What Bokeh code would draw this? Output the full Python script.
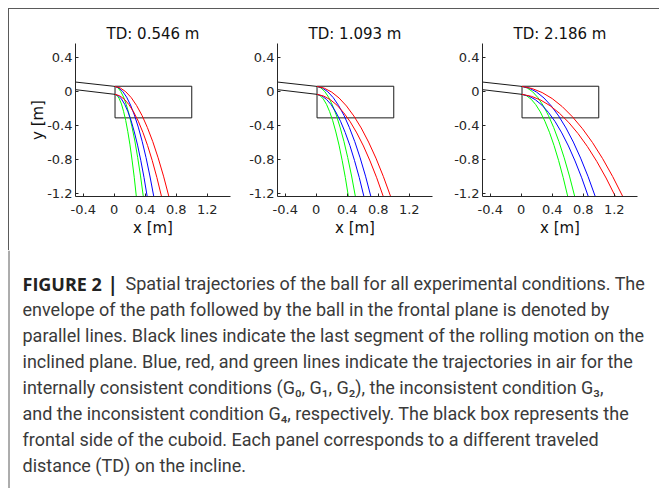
from bokeh.plotting import figure
from bokeh.layouts import column, row
from bokeh.models import Range1d, FixedTicker, Div
from bokeh.core.properties import value
from bokeh.embed import file_html
from bokeh.resources import INLINE

# ---------------- data ----------------
panel_titles = ["TD: 0.546 m", "TD: 1.093 m", "TD: 2.186 m"]
x_ticks = [-0.4, 0, 0.4, 0.8, 1.2]
y_ticks = [-1.2, -0.8, -0.4, 0, 0.4]
x_tick_labels = {-0.4: "-0.4", 0: "0", 0.4: "0.4", 0.8: "0.8", 1.2: "1.2"}
y_tick_labels = {-1.2: "-1.2", -0.8: "-0.8", -0.4: "-0.4", 0: "0", 0.4: "0.4"}
x_limits = [-0.5, 1.5]
y_limits = [-1.23, 0.56]

# last segment of the rolling motion on the incline (envelope)
incline_x = [-0.5, 0.01]
incline_upper_y = [0.109, 0.058]
incline_lower_y = [0.020, -0.035]

# frontal side of the cuboid
box_x = [0.01, 1.0]
box_y = [-0.31, 0.06]

# panel 1 (TD 0.546 m)
p1_green_lo_x = [0.01, 0.038, 0.065, 0.093, 0.12, 0.148, 0.175, 0.203, 0.23, 0.258, 0.285]
p1_green_lo_y = [-0.035, -0.049, -0.087, -0.148, -0.233, -0.341, -0.472, -0.626, -0.804, -1.005, -1.23]
p1_green_up_x = [0.01, 0.047, 0.083, 0.12, 0.156, 0.193, 0.229, 0.266, 0.302, 0.339, 0.375]
p1_green_up_y = [0.058, 0.042, 0.001, -0.066, -0.157, -0.273, -0.415, -0.581, -0.772, -0.989, -1.23]
p1_blue_lo_x = [0.01, 0.052, 0.093, 0.135, 0.176, 0.218, 0.259, 0.301, 0.342, 0.384, 0.425]
p1_blue_lo_y = [-0.035, -0.051, -0.089, -0.151, -0.236, -0.344, -0.475, -0.629, -0.806, -1.007, -1.23]
p1_blue_up_x = [0.01, 0.06, 0.11, 0.16, 0.21, 0.26, 0.31, 0.36, 0.41, 0.46, 0.51]
p1_blue_up_y = [0.058, 0.041, -0.002, -0.068, -0.16, -0.277, -0.418, -0.584, -0.774, -0.99, -1.23]
p1_red_lo_x = [0.01, 0.07, 0.13, 0.19, 0.25, 0.31, 0.37, 0.43, 0.49, 0.55, 0.61]
p1_red_lo_y = [-0.035, -0.052, -0.092, -0.155, -0.241, -0.349, -0.48, -0.633, -0.809, -1.008, -1.23]
p1_red_up_x = [0.01, 0.08, 0.149, 0.219, 0.288, 0.358, 0.427, 0.497, 0.566, 0.636, 0.705]
p1_red_up_y = [0.058, 0.039, -0.005, -0.073, -0.165, -0.281, -0.422, -0.588, -0.777, -0.992, -1.23]

# panel 2 (TD 1.093 m)
p2_green_lo_x = [0.01, 0.051, 0.091, 0.132, 0.172, 0.213, 0.253, 0.294, 0.334, 0.375, 0.415]
p2_green_lo_y = [-0.035, -0.051, -0.089, -0.151, -0.236, -0.344, -0.475, -0.629, -0.806, -1.007, -1.23]
p2_green_up_x = [0.01, 0.06, 0.109, 0.159, 0.208, 0.258, 0.307, 0.357, 0.406, 0.456, 0.505]
p2_green_up_y = [0.058, 0.041, -0.001, -0.068, -0.16, -0.276, -0.418, -0.584, -0.774, -0.99, -1.23]
p2_blue_lo_x = [0.01, 0.071, 0.131, 0.192, 0.252, 0.313, 0.373, 0.434, 0.494, 0.555, 0.615]
p2_blue_lo_y = [-0.035, -0.052, -0.093, -0.155, -0.241, -0.349, -0.48, -0.633, -0.81, -1.008, -1.23]
p2_blue_up_x = [0.01, 0.08, 0.149, 0.219, 0.288, 0.358, 0.427, 0.497, 0.566, 0.636, 0.705]
p2_blue_up_y = [0.058, 0.039, -0.005, -0.073, -0.165, -0.281, -0.422, -0.588, -0.777, -0.992, -1.23]
p2_red_lo_x = [0.01, 0.096, 0.181, 0.267, 0.352, 0.438, 0.523, 0.609, 0.694, 0.78, 0.865]
p2_red_lo_y = [-0.035, -0.055, -0.097, -0.161, -0.247, -0.355, -0.486, -0.639, -0.814, -1.011, -1.23]
p2_red_up_x = [0.01, 0.105, 0.2, 0.295, 0.39, 0.485, 0.58, 0.675, 0.77, 0.865, 0.96]
p2_red_up_y = [0.058, 0.037, -0.009, -0.078, -0.171, -0.288, -0.428, -0.593, -0.781, -0.994, -1.23]

# panel 3 (TD 2.186 m)
p3_green_lo_x = [0.01, 0.069, 0.128, 0.187, 0.246, 0.305, 0.364, 0.423, 0.482, 0.541, 0.6]
p3_green_lo_y = [-0.035, -0.052, -0.092, -0.155, -0.24, -0.349, -0.479, -0.633, -0.809, -1.008, -1.23]
p3_green_up_x = [0.01, 0.078, 0.146, 0.214, 0.282, 0.35, 0.418, 0.486, 0.554, 0.622, 0.69]
p3_green_up_y = [0.058, 0.039, -0.004, -0.072, -0.164, -0.281, -0.422, -0.587, -0.777, -0.991, -1.23]
p3_blue_lo_x = [0.01, 0.096, 0.181, 0.267, 0.352, 0.438, 0.523, 0.609, 0.694, 0.78, 0.865]
p3_blue_lo_y = [-0.035, -0.055, -0.097, -0.161, -0.247, -0.355, -0.486, -0.639, -0.814, -1.011, -1.23]
p3_blue_up_x = [0.01, 0.105, 0.199, 0.294, 0.388, 0.483, 0.577, 0.672, 0.766, 0.861, 0.955]
p3_blue_up_y = [0.058, 0.037, -0.009, -0.078, -0.171, -0.288, -0.428, -0.593, -0.781, -0.994, -1.23]
p3_red_lo_x = [0.01, 0.131, 0.251, 0.372, 0.492, 0.613, 0.733, 0.854, 0.974, 1.095, 1.215]
p3_red_lo_y = [-0.035, -0.058, -0.102, -0.168, -0.255, -0.364, -0.494, -0.646, -0.819, -1.014, -1.23]
p3_red_up_x = [0.01, 0.14, 0.27, 0.4, 0.53, 0.66, 0.79, 0.92, 1.05, 1.18, 1.31]
p3_red_up_y = [0.058, 0.033, -0.014, -0.085, -0.179, -0.297, -0.437, -0.6, -0.787, -0.997, -1.23]

caption_bold = "FIGURE 2"
caption_bar = "|"
caption_lines = [
    "Spatial trajectories of the ball for all experimental conditions. The",
    "envelope of the path followed by the ball in the frontal plane is denoted by",
    "parallel lines. Black lines indicate the last segment of the rolling motion on the",
    "inclined plane. Blue, red, and green lines indicate the trajectories in air for the",
    "internally consistent conditions (G\u2080, G\u2081, G\u2082), the inconsistent condition G\u2083,",
    "and the inconsistent condition G\u2084, respectively. The black box represents the",
    "frontal side of the cuboid. Each panel corresponds to a different traveled",
    "distance (TD) on the incline.",
]

# ---------------- styling ----------------
GREEN, BLUE, RED = "#00ff00", "#0000ff", "#ff0000"
AX = "#262626"
FRAME = "#5a5a5a"
AXFONT = "DejaVu Sans"

panels = [
    [(GREEN, p1_green_lo_x, p1_green_lo_y), (GREEN, p1_green_up_x, p1_green_up_y),
     (BLUE, p1_blue_lo_x, p1_blue_lo_y), (BLUE, p1_blue_up_x, p1_blue_up_y),
     (RED, p1_red_lo_x, p1_red_lo_y), (RED, p1_red_up_x, p1_red_up_y)],
    [(GREEN, p2_green_lo_x, p2_green_lo_y), (GREEN, p2_green_up_x, p2_green_up_y),
     (BLUE, p2_blue_lo_x, p2_blue_lo_y), (BLUE, p2_blue_up_x, p2_blue_up_y),
     (RED, p2_red_lo_x, p2_red_lo_y), (RED, p2_red_up_x, p2_red_up_y)],
    [(GREEN, p3_green_lo_x, p3_green_lo_y), (GREEN, p3_green_up_x, p3_green_up_y),
     (BLUE, p3_blue_lo_x, p3_blue_lo_y), (BLUE, p3_blue_up_x, p3_blue_up_y),
     (RED, p3_red_lo_x, p3_red_lo_y), (RED, p3_red_up_x, p3_red_up_y)],
]

# (figure width, left border, right border)
geom = [(228, 63, 10), (205, 37, 13), (214, 37, 22)]


def make_panel(i):
    w, lb, rb = geom[i]
    p = figure(width=w, height=240, output_backend="svg", toolbar_location=None,
               x_range=Range1d(*x_limits), y_range=Range1d(*y_limits),
               min_border_left=lb, min_border_right=rb,
               min_border_top=33, min_border_bottom=54,
               title=panel_titles[i])
    p.title.align = "center"
    p.title.text_font = AXFONT
    p.title.text_font_size = "15px"
    p.title.text_font_style = "normal"
    p.title.text_color = "#111111"
    p.title.standoff = 2
    p.outline_line_color = None
    p.background_fill_color = "white"
    p.border_fill_color = "white"
    p.xgrid.visible = False
    p.ygrid.visible = False

    for ax, ticks, labels in ((p.xaxis[0], x_ticks, x_tick_labels),
                              (p.yaxis[0], y_ticks, y_tick_labels)):
        ax.ticker = FixedTicker(ticks=ticks, minor_ticks=[])
        ax.major_label_overrides = labels
        ax.major_tick_in = 3
        ax.major_tick_out = 0
        ax.minor_tick_in = 0
        ax.minor_tick_out = 0
        ax.axis_line_color = AX
        ax.major_tick_line_color = AX
        ax.major_label_text_font = AXFONT
        ax.major_label_text_font_size = "13px"
        ax.major_label_text_color = AX
        ax.axis_label_text_font = AXFONT
        ax.axis_label_text_font_size = "15px"
        ax.axis_label_text_font_style = "normal"
        ax.axis_label_text_color = "#111111"
    p.xaxis.major_label_standoff = 8
    p.yaxis.major_label_standoff = 3
    p.xaxis.axis_label = "x [m]"
    p.xaxis.axis_label_standoff = 2
    if i == 0:
        p.yaxis.axis_label = "y [m]"
        p.yaxis.axis_label_standoff = -3

    # rolling segment on the incline
    p.line(incline_x, incline_upper_y, line_color="#1a1a1a", line_width=1)
    p.line(incline_x, incline_lower_y, line_color="#1a1a1a", line_width=1)
    # cuboid front
    p.quad(left=[box_x[0]], right=[box_x[1]], bottom=[box_y[0]], top=[box_y[1]],
           fill_color=None, line_color="#1a1a1a", line_width=1)
    # trajectories in air
    for color, xs, ys in panels[i]:
        p.line(xs, ys, line_color=color, line_width=1)
    return p


def plain_fig(w, h):
    f = figure(width=w, height=h, output_backend="svg", toolbar_location=None,
               x_range=Range1d(0, w), y_range=Range1d(h, 0),
               x_axis_type=None, y_axis_type=None, min_border=0, title=None)
    f.min_border_left = 0
    f.min_border_right = 0
    f.min_border_top = 0
    f.min_border_bottom = 0
    f.outline_line_color = None
    f.xgrid.visible = False
    f.ygrid.visible = False
    f.background_fill_color = "white"
    f.border_fill_color = "white"
    return f


# thin gray rule framing the figure block (top and left), as plain HTML boxes
RULE_CSS = [":host { line-height: 0; font-size: 0; } div { vertical-align: top; }"]
top_rule = Div(
    width=659, height=10,
    text=('<div style="display:block;width:659px;height:10px;position:relative;'
          'margin:0;padding:0;line-height:0;font-size:0;">'
          '<div style="position:absolute;left:8px;top:8px;width:651px;height:2px;'
          'border-top:1px solid %s;border-left:1px solid %s;box-sizing:border-box;"></div>'
          '</div>') % (FRAME, FRAME),
    styles={"margin": "0", "padding": "0", "overflow": "hidden",
            "line-height": "0", "font-size": "0"},
    stylesheets=RULE_CSS)
left_rule = Div(
    width=12, height=240,
    text=('<div style="display:block;width:12px;height:240px;position:relative;'
          'margin:0;padding:0;line-height:0;font-size:0;">'
          '<div style="position:absolute;left:8px;top:0;width:1px;height:240px;'
          'background:%s;"></div></div>') % FRAME,
    styles={"margin": "0", "padding": "0", "overflow": "hidden",
            "line-height": "0", "font-size": "0"},
    stylesheets=RULE_CSS)

p1, p2, p3 = make_panel(0), make_panel(1), make_panel(2)

# caption
cap = plain_fig(659, 238)
cap.segment(x0=[8.5], y0=[0], x1=[8.5], y1=[238], line_color=FRAME, line_width=1)
line_y = [33 + 26 * k for k in range(len(caption_lines))]
cap.text(x=[22], y=[line_y[0]], text=[caption_bold], text_font=value("Open Sans"),
         text_font_style="bold", text_font_size="18px", text_baseline="middle",
         text_color="#222222")
cap.text(x=[107], y=[line_y[0]], text=[caption_bar], text_font=value("Open Sans"),
         text_font_style="bold", text_font_size="19px", text_baseline="middle",
         text_color="#222222")
cap.text(x=[125] + [22] * (len(caption_lines) - 1), y=line_y, text=caption_lines,
         text_font=value("Roboto"), text_font_size="18px", text_baseline="middle",
         text_color="#3a3a3a")

layout = column(top_rule, row(left_rule, p1, p2, p3), cap)

open("out.html", "w").write(file_html(layout, INLINE))
